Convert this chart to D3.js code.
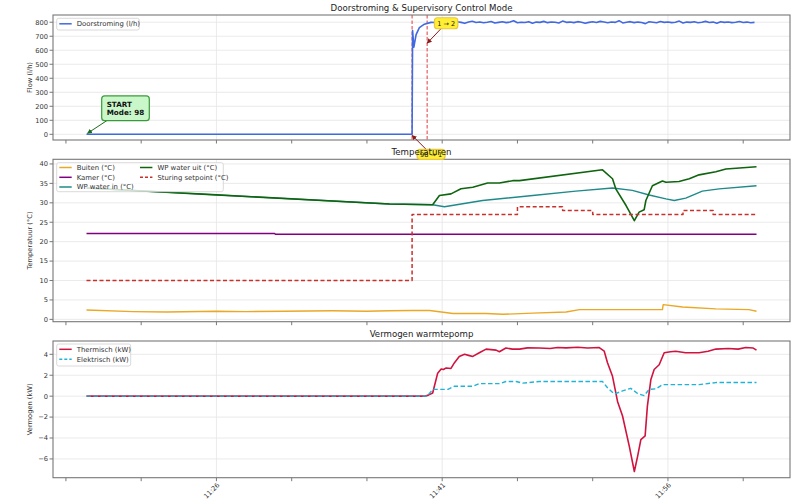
<!DOCTYPE html>
<html><head><meta charset="utf-8">
<script src="https://cdn.jsdelivr.net/npm/d3@7"></script>
<style>body{margin:0;background:#fff} svg{font-family:"DejaVu Sans",sans-serif}</style>
</head><body><svg id="c" width="800" height="504"></svg>
<script>
// ---------------- DATA ----------------
const flowRamp = [["11:17:22",0],["11:39:00",0],["11:39:02",740],["11:39:07",622],["11:39:16",712],["11:39:29",762],["11:39:49",786],["11:40:15",799]];
const flowSteadyStart = "11:40:30";
const flowSteadyStepSec = 15;
const flowSteady = [798,803,795,806,800,797,804,799,792,801,
  807,798,802,796,800,805,794,799,803,797,
  801,810,796,800,798,804,793,801,799,806,
  797,802,800,795,808,799,801,797,804,800,
  792,799,803,798,806,801,796,802,799,811,
  795,800,804,797,801,798,790,803,800,796,
  805,799,802,797,800,808,794,801,799,803,
  796,800,806,798,801,793,804,799,802,797,
  800,805,798,801,796,799];

const buiten = [["11:17:22",2.4],["11:20:27",2.0],["11:22:41",1.9],["11:26:00",2.1],["11:27:59",2.0],["11:30:30",2.1],["11:33:44",2.2],["11:35:57",2.1],["11:37:30",2.2],["11:39:00",2.3],["11:40:10",2.3],["11:41:43",1.5],["11:43:55",1.5],["11:45:01",1.3],["11:47:01",1.6],["11:49:14",1.9],["11:50:07",2.5],["11:53:38",2.5],["11:55:38",2.5],["11:55:41",3.8],["11:56:58",3.2],["11:59:11",2.7],["12:01:23",2.5],["12:01:53",2.1]];
const kamer = [["11:17:22",22.1],["11:29:52",22.1],["11:29:55",21.9],["12:01:53",21.9]];
const wpIn = [["11:17:22",33.8],["11:26:00",32.05],["11:37:30",29.7],["11:40:22",29.5],["11:41:09",29.0],["11:43:41",30.6],["11:47:01",31.9],["11:49:53",33.0],["11:52:19",33.8],["11:53:38",33.2],["11:54:45",32.0],["11:55:52",31.0],["11:56:25",30.6],["11:57:11",31.2],["11:58:17",33.0],["11:59:24",33.6],["12:01:53",34.4]];
const wpUit = [["11:17:22",33.8],["11:26:00",32.05],["11:37:30",29.7],["11:40:22",29.5],["11:40:49",31.9],["11:41:35",32.3],["11:42:15",33.6],["11:43:02",34.0],["11:44:01",35.1],["11:44:48",35.1],["11:45:41",35.7],["11:46:08",35.7],["11:51:39",38.5],["11:52:19",36.2],["11:52:32",33.6],["11:53:13",29.3],["11:53:46",25.4],["11:54:05",27.6],["11:54:25",28.2],["11:54:32",30.6],["11:54:58",34.4],["11:55:38",35.6],["11:55:52",35.3],["11:56:44",35.5],["11:57:25",36.2],["11:58:04",37.2],["11:59:11",38.0],["11:59:51",38.7],["12:01:53",39.3]];
const setpoint = [["11:17:22",10],["11:39:00",27],["11:46:00",29],["11:49:00",28],["11:51:00",27],["11:57:00",28],["11:59:00",27],["12:01:53",27]];

const thermisch = [["11:17:22",0],["11:39:50",0],["11:40:05",0.1],["11:40:22",0.3],["11:40:42",2.2],["11:40:56",2.6],["11:41:05",2.55],["11:41:16",2.7],["11:41:35",2.65],["11:41:49",3.2],["11:42:08",3.8],["11:42:29",4.0],["11:42:45",3.9],["11:43:02",3.8],["11:43:28",4.15],["11:43:55",4.5],["11:44:15",4.45],["11:44:35",4.4],["11:44:48",4.25],["11:45:14",4.6],["11:45:40",4.5],["11:46:08",4.5],["11:46:40",4.62],["11:47:27",4.6],["11:48:10",4.55],["11:48:40",4.65],["11:49:14",4.62],["11:50:00",4.68],["11:50:40",4.6],["11:51:26",4.65],["11:51:46",4.3],["11:51:59",3.2],["11:52:19",1.9],["11:52:39",-0.5],["11:52:59",-1.9],["11:53:26",-4.8],["11:53:46",-7.2],["11:53:59",-5.75],["11:54:12",-4.15],["11:54:29",-3.8],["11:54:38",-0.95],["11:54:52",1.6],["11:55:05",2.55],["11:55:25",3.0],["11:55:45",4.15],["11:56:10",4.25],["11:56:31",4.3],["11:57:10",4.15],["11:58:04",4.15],["11:58:40",4.3],["11:59:11",4.5],["12:00:00",4.55],["12:00:40",4.5],["12:01:10",4.65],["12:01:40",4.6],["12:01:53",4.4]];
const elektrisch = [["11:17:22",0],["11:40:00",0],["11:40:22",0.65],["11:41:23",0.65],["11:41:49",0.95],["11:43:02",0.95],["11:43:28",1.2],["11:44:48",1.2],["11:45:14",1.4],["11:45:55",1.4],["11:46:21",1.25],["11:47:27",1.4],["11:51:39",1.4],["11:51:59",0.8],["11:52:26",0.2],["11:52:59",0.5],["11:53:32",0.75],["11:53:59",0.25],["11:54:25",0.05],["11:54:45",0.65],["11:55:12",0.7],["11:55:38",1.1],["11:58:04",1.1],["11:59:11",1.3],["12:01:53",1.3]];

const modeChanges = [{time:"11:39:00", label:"98 → 1", value:0}, {time:"11:40:00", label:"1 → 2", value:650}];
const startInfo = {time:"11:17:22", value:0, lines:["START","Mode: 98"]};

const majorTicks = ["11:26","11:41","11:56"];
const minorTicks = ["11:16","11:21","11:31","11:36","11:46","11:51","12:01"];
const flowTicks = [0,100,200,300,400,500,600,700,800];
const tempTicks = [0,5,10,15,20,25,30,35,40];
const powerTicks = [-6,-4,-2,0,2,4];

// ---------------- SETUP ----------------
const pt = d3.timeParse("%H:%M:%S");
const ph = d3.timeParse("%H:%M");
const conv = a => a.map(d => ({t: pt(d[0]), v: d[1]}));
const t0 = pt(flowSteadyStart);
const flow = conv(flowRamp).concat(flowSteady.map((v,i)=>({t:d3.timeSecond.offset(t0, i*flowSteadyStepSec), v})));

const svg = d3.select("#c");
const L = 53, R = 790;
const allT = conv(buiten).map(d=>d.t);
const te = d3.extent(allT);
const span = te[1]-te[0];
const x = d3.scaleTime().domain([new Date(+te[0]-span*0.05), new Date(+te[1]+span*0.05)]).range([L,R]);

function padDomain(vals){ const e=d3.extent(vals); const s=e[1]-e[0]; return [e[0]-s*0.05, e[1]+s*0.05]; }

function panel(top, bottom, yDomain, yTicks, ylabel, title, showXLabels){
  const y = d3.scaleLinear().domain(yDomain).range([bottom, top]);
  const g = svg.append("g");
  g.selectAll(".hg").data(yTicks).join("line").attr("x1",L).attr("x2",R)
    .attr("y1",d=>y(d)).attr("y2",d=>y(d)).attr("stroke","#e4e4e4").attr("stroke-width",0.8);
  g.selectAll(".vg").data(majorTicks).join("line").attr("x1",d=>x(ph(d))).attr("x2",d=>x(ph(d)))
    .attr("y1",top).attr("y2",bottom).attr("stroke","#e4e4e4").attr("stroke-width",0.8);
  g.selectAll(".yt").data(yTicks).join("line").attr("x1",L-3.5).attr("x2",L).attr("y1",d=>y(d)).attr("y2",d=>y(d)).attr("stroke","#555").attr("stroke-width",0.8);
  g.selectAll(".yl").data(yTicks).join("text").attr("x",L-5).attr("y",d=>y(d)).attr("dy","0.35em")
    .attr("text-anchor","end").attr("font-size",6.7).attr("fill","#333").text(d=>d<0?"\u2212"+Math.abs(d):d);
  const allTicks = majorTicks.concat(minorTicks);
  g.selectAll(".xt").data(allTicks).join("line").attr("x1",d=>x(ph(d))).attr("x2",d=>x(ph(d)))
    .attr("y1",bottom).attr("y2",bottom+3.5).attr("stroke","#555").attr("stroke-width",0.8);
  if(showXLabels){
    g.selectAll(".xl").data(majorTicks).join("text")
      .attr("transform",d=>`translate(${x(ph(d))+2},${bottom+6}) rotate(-45)`)
      .attr("text-anchor","end").attr("dy","0.35em").attr("font-size",6.7).attr("fill","#333").text(d=>d);
  }
  svg.append("text").attr("transform",`translate(32,${(top+bottom)/2}) rotate(-90)`).attr("text-anchor","middle")
    .attr("font-size",6.7).attr("fill","#333").text(ylabel);
  const plot = svg.append("g");
  const frame = ()=> svg.append("rect").attr("x",L).attr("y",top).attr("width",R-L).attr("height",bottom-top)
    .attr("fill","none").attr("stroke","#777").attr("stroke-width",1.1);
  const titleFn = ()=> svg.append("text").attr("x",(L+R)/2).attr("y",top-4).attr("text-anchor","middle")
    .attr("font-size",8.6).attr("fill","#222").text(title);
  return {y, plot, frame, titleFn, top, bottom};
}

function line(p, data, color, w, dash, curve){
  const gen = d3.line().x(d=>x(d.t)).y(d=>p.y(d.v)).curve(curve||d3.curveLinear);
  p.plot.append("path").datum(data).attr("d",gen).attr("fill","none").attr("stroke",color)
    .attr("stroke-width",w).attr("stroke-linejoin","round").attr("stroke-dasharray",dash||null);
}

function legend(p, x0, y0, w, h, items){
  const g = svg.append("g");
  g.append("rect").attr("x",x0).attr("y",y0).attr("width",w).attr("height",h).attr("rx",2)
    .attr("fill","white").attr("fill-opacity",0.8).attr("stroke","#d0d0d0").attr("stroke-width",0.8);
  items.forEach(it=>{
    const lx = x0 + it.col, ly = y0 + it.row;
    g.append("line").attr("x1",lx+2.6).attr("x2",lx+15).attr("y1",ly).attr("y2",ly).attr("stroke",it.color)
      .attr("stroke-width",it.w).attr("stroke-dasharray",it.dash||null);
    g.append("text").attr("x",lx+20).attr("y",ly).attr("dy","0.35em").attr("font-size",6.9).attr("fill","#333").text(it.label);
  });
}

const C = {flow:"#4169e1", buiten:"#eba825", kamer:"#800080", wpIn:"#1f8a8a", wpUit:"#0f640f", set:"#c8302c", th:"#d01440", el:"#1fb3d6"};

// ---- top panel
const pTop = panel(15, 140, padDomain(flow.map(d=>d.v)), flowTicks, "Flow (l/h)", "Doorstroming & Supervisory Control Mode", false);
modeChanges.forEach(m=>{
  pTop.plot.append("line").attr("x1",x(pt(m.time))).attr("x2",x(pt(m.time))).attr("y1",pTop.top).attr("y2",pTop.bottom)
    .attr("stroke","#e03030").attr("stroke-opacity",0.85).attr("stroke-width",1.1).attr("stroke-dasharray","3.5,2");
});
line(pTop, flow, C.flow, 1.6);

// ---- middle panel
const pMid = panel(159.3, 321.7, padDomain([].concat(buiten,kamer,wpIn,wpUit,setpoint).map(d=>d[1])), tempTicks, "Temperatuur (°C)", "Temperaturen", false);
line(pMid, conv(buiten), C.buiten, 1.4);
line(pMid, conv(kamer), C.kamer, 1.4);
line(pMid, conv(wpIn), C.wpIn, 1.4);
line(pMid, conv(wpUit), C.wpUit, 1.6);
line(pMid, conv(setpoint), C.set, 1.5, "4,2.5", d3.curveStepAfter);

// ---- bottom panel
const pBot = panel(341, 477.7, padDomain([].concat(thermisch,elektrisch).map(d=>d[1])), powerTicks, "Vermogen (kW)", "Vermogen warmtepomp", true);
line(pBot, conv(thermisch), C.th, 1.6);
line(pBot, conv(elektrisch), C.el, 1.4, "4.5,2.5");

[pTop,pMid,pBot].forEach(p=>p.frame());

legend(pTop, 56.7, 18.3, 82.6, 11.7, [{col:0,row:5.5,color:C.flow,w:1.5,label:"Doorstroming (l/h)"}]);
legend(pMid, 56.7, 162.7, 166.6, 29, [
  {col:0,row:4.8,color:C.buiten,w:1.5,label:"Buiten (°C)"},
  {col:0,row:14.6,color:C.kamer,w:1.5,label:"Kamer (°C)"},
  {col:0,row:24.3,color:C.wpIn,w:1.5,label:"WP water in (°C)"},
  {col:80.7,row:4.8,color:C.wpUit,w:1.5,label:"WP water uit (°C)"},
  {col:80.7,row:14.6,color:C.set,w:1.5,dash:"3,2",label:"Sturing setpoint (°C)"}]);
legend(pBot, 56.7, 344, 74, 22, [
  {col:0,row:5.3,color:C.th,w:1.5,label:"Thermisch (kW)"},
  {col:0,row:15.3,color:C.el,w:1.5,dash:"3,2",label:"Elektrisch (kW)"}]);

const defs = svg.append("defs");
function marker(id,color){
  defs.append("marker").attr("id",id).attr("viewBox","0 0 10 10").attr("refX",9).attr("refY",5)
    .attr("markerWidth",5).attr("markerHeight",5).attr("orient","auto")
    .append("path").attr("d","M0,0L10,5L0,10z").attr("fill",color);
}
marker("agreen","#1a6b1a"); marker("ared","#8b1a1a");

function annot(tx, ty, bx, by, bw, bh, lines, fill, stroke, arrowColor, markerId, bold, fs){
  const g = svg.append("g");
  g.append("line").attr("x1",bx).attr("y1",by).attr("x2",tx).attr("y2",ty).attr("stroke",arrowColor).attr("stroke-width",1).attr("marker-end",`url(#${markerId})`);
  g.append("rect").attr("x",bx-bw/2).attr("y",by-bh/2).attr("width",bw).attr("height",bh).attr("rx",3)
    .attr("fill",fill).attr("stroke",stroke).attr("stroke-width",1.2);
  lines.forEach((l,i)=>{
    g.append("text").attr("x", bold ? bx-bw/2+5 : bx).attr("y",by - (lines.length-1)*fs*0.6 + i*fs*1.2).attr("dy","0.35em")
      .attr("text-anchor", bold?"start":"middle").attr("font-size",fs).attr("font-weight",bold?"bold":"normal").attr("fill","#111").text(l);
  });
}
{
  const tx = x(pt(startInfo.time)), ty = pTop.y(startInfo.value);
  annot(tx+1, ty-1, tx+39, ty-26, 47.6, 24.7, startInfo.lines, "#c9f7c9", "#3a9a3a", "#1a6b1a", "agreen", true, 7.2);
}
modeChanges.forEach((m,i)=>{
  const tx = x(pt(m.time)), ty = pTop.y(m.value);
  if(i===0) annot(tx, ty+1, tx+19, ty+20, 28, 10, [m.label], "#ffee33", "#e8c840", "#8b1a1a", "ared", false, 6.5);
  else annot(tx, ty, tx+19, ty-20, 23.4, 11, [m.label], "#ffee33", "#e8c840", "#8b1a1a", "ared", false, 6.5);
});

[pTop,pMid,pBot].forEach(p=>p.titleFn());
</script></body></html>
